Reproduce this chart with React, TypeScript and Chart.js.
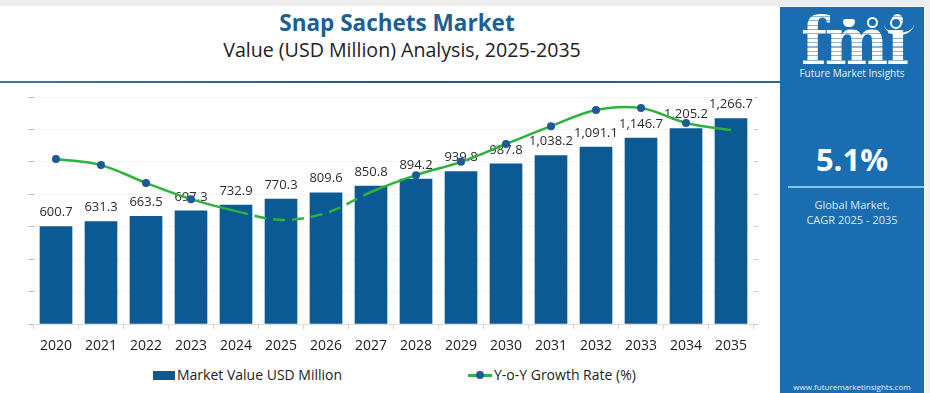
import React, { useEffect, useRef } from "react";
import { Chart, registerables } from "chart.js";

Chart.register(...registerables);

const years = ["2020", "2021", "2022", "2023", "2024", "2025", "2026", "2027", "2028", "2029", "2030", "2031", "2032", "2033", "2034", "2035"];
const marketValues = [600.7, 631.3, 663.5, 697.3, 732.9, 770.3, 809.6, 850.8, 894.2, 939.8, 987.8, 1038.2, 1091.1, 1146.7, 1205.2, 1266.7];
const growthRates = [5.09, 4.9, 4.35, 3.85, 3.48, 3.21, 3.42, 4.07, 4.59, 5.0, 5.55, 6.1, 6.6, 6.66, 6.2, 5.98];
const growthMarkers = [4, 4, 4, 4, 0, 0, 0, 0, 4, 4, 4, 4, 4, 4, 4, 0];
const valueAxisMax = 1400;
const valueAxisStep = 200;
const growthAxisMax = 7;
const growthAxisStep = 1;

const FONT = "'Open Sans', 'Noto Sans', sans-serif";
const BAR_COLOR = "#0c5a93";
const LINE_COLOR = "#2db23b";
const POINT_COLOR = "#1d5a96";
const PANEL_COLOR = "#1a6db1";

const fmt = (v: number) =>
  v.toLocaleString("en-US", { minimumFractionDigits: 1, maximumFractionDigits: 1 });

const barLabels = {
  id: "barLabels",
  afterDatasetDraw(chart: any, args: any) {
    if (args.index !== 0) return;
    const ctx = chart.ctx;
    ctx.save();
    ctx.font = `13px ${FONT}`;
    ctx.fillStyle = "#2b2b2b";
    ctx.textAlign = "center";
    ctx.textBaseline = "middle";
    args.meta.data.forEach((el: any, i: number) => {
      ctx.fillText(fmt(marketValues[i]), el.x, el.y - 14);
    });
    ctx.restore();
  },
};

function ChartCanvas() {
  const ref = useRef<HTMLCanvasElement | null>(null);
  useEffect(() => {
    if (!ref.current) return;
    const chart = new Chart(ref.current, {
      type: "bar",
      data: {
        labels: years,
        datasets: [
          {
            type: "bar",
            label: "Market Value USD Million",
            data: marketValues,
            backgroundColor: BAR_COLOR,
            barThickness: 32,
            yAxisID: "y",
            order: 2,
          },
          {
            type: "line",
            label: "Y-o-Y Growth Rate (%)",
            data: growthRates,
            yAxisID: "y1",
            borderColor: LINE_COLOR,
            borderWidth: 2.5,
            tension: 0.35,
            pointRadius: growthMarkers,
            pointHoverRadius: growthMarkers,
            pointBackgroundColor: POINT_COLOR,
            pointBorderWidth: 0,
            segment: {
              borderDash: (c: any) =>
                c.p0DataIndex >= 4 && c.p0DataIndex <= 6 ? [12, 7] : undefined,
            },
            order: 1,
          } as any,
        ],
      },
      options: {
        animation: false,
        responsive: false,
        layout: { padding: { top: 12, left: 0, right: 0, bottom: 0 } },
        plugins: { legend: { display: false }, tooltip: { enabled: false } },
        scales: {
          x: {
            grid: { offset: true, drawOnChartArea: false, tickLength: 5, color: "#d0d0d0" },
            border: { color: "#dcdcdc" },
            ticks: { font: { family: FONT, size: 14 }, color: "#222", padding: 9 },
            afterFit: (s: any) => {
              s.height = 41;
            },
          },
          y: {
            position: "left",
            min: 0,
            max: valueAxisMax,
            ticks: { display: false, stepSize: valueAxisStep },
            grid: { color: "#f4f4f4", tickLength: 5, tickColor: "#b8b8b8" },
            border: { display: false },
            afterFit: (s: any) => {
              s.width = 33.5;
            },
          },
          y1: {
            position: "right",
            min: 0,
            max: growthAxisMax,
            ticks: { display: false, stepSize: growthAxisStep },
            grid: { drawOnChartArea: false, tickLength: 4, tickColor: "#c8c8c8" },
            border: { display: false },
            afterFit: (s: any) => {
              s.width = 26.5;
            },
          },
        },
      } as any,
      plugins: [barLabels],
    });
    return () => chart.destroy();
  }, []);
  return (
    <canvas
      ref={ref}
      width={780}
      height={280}
      style={{ position: "absolute", left: 0, top: 85, width: 780, height: 280 }}
    />
  );
}

export default function App() {
  const abs = (s: React.CSSProperties): React.CSSProperties => ({ position: "absolute", ...s });
  return (
    <div
      style={{
        position: "fixed",
        left: 0,
        top: 0,
        width: 930,
        height: 393,
        background: "#ffffff",
        overflow: "hidden",
        fontFamily: FONT,
      }}
    >
      <div style={abs({ left: 0, top: 0, width: 930, height: 6, background: "#ededed" })} />
      <div style={abs({ left: 924, top: 0, width: 6, height: 393, background: "#f1f1f1" })} />
      <div
        style={abs({
          left: 0,
          top: 10,
          width: 794,
          textAlign: "center",
          fontSize: 22.5,
          fontWeight: 700,
          color: "#1b5f93",
          lineHeight: "26px",
        })}
      >
        Snap Sachets Market
      </div>
      <div
        style={abs({
          left: 0,
          top: 38,
          width: 804,
          textAlign: "center",
          fontSize: 19.6,
          color: "#222",
          lineHeight: "24px",
        })}
      >
        Value (USD Million) Analysis, 2025-2035
      </div>
      <div
        style={abs({
          left: 0,
          top: 81,
          width: 780,
          height: 2,
          background: "linear-gradient(90deg, #3f78a3 0%, #1d5a8a 50%, #2c6796 100%)",
        })}
      />
      <ChartCanvas />
      {/* legend */}
      <div style={abs({ left: 153, top: 371, width: 22, height: 9, background: BAR_COLOR })} />
      <div style={abs({ left: 177, top: 365, fontSize: 14, lineHeight: "20px", color: "#222" })}>
        Market Value USD Million
      </div>
      <div style={abs({ left: 468, top: 374, width: 24, height: 2.5, background: LINE_COLOR })} />
      <div
        style={abs({ left: 476, top: 371, width: 8, height: 8, borderRadius: 4, background: POINT_COLOR })}
      />
      <div style={abs({ left: 494, top: 365, fontSize: 14, lineHeight: "20px", color: "#222" })}>
        Y-o-Y Growth Rate (%)
      </div>
      {/* right panel */}
      <div style={abs({ left: 780, top: 7, width: 144, height: 386, background: PANEL_COLOR })}>
        <div
          style={abs({
            left: 21,
            top: 1,
            width: 110,
            height: 60,
            fontFamily: "'DejaVu Serif', serif",
            fontWeight: 700,
            fontSize: 60,
            lineHeight: "60px",
            letterSpacing: -2,
            transform: "scaleY(1.1)",
            transformOrigin: "0 0",
            backgroundImage:
              "repeating-linear-gradient(180deg, #ffffff 0px, #ffffff 3px, rgba(255,255,255,0.5) 3px, rgba(255,255,255,0.5) 4px)",
            WebkitBackgroundClip: "text",
            backgroundClip: "text",
            color: "transparent",
          } as any)}
        >
          fmi
        </div>
        <div style={abs({ left: 104, top: 6, width: 144 - 104 - 10, height: 22, borderRadius: "50%", borderBottom: "2px solid #fff", boxSizing: "border-box" })} />
        <div style={abs({ left: 63, top: 12, width: 12, height: 8, borderRadius: "3px 3px 6px 6px", background: "#fff" })} />
        <div style={abs({ left: 87, top: 10, width: 11, height: 11, borderRadius: 6, border: "2px solid #fff", background: PANEL_COLOR, boxSizing: "border-box" })} />
        <div style={abs({ left: 110, top: 10, width: 12, height: 12, borderRadius: 6, border: "2px solid #fff", background: PANEL_COLOR, boxSizing: "border-box" })} />
        <div
          style={abs({
            left: 0,
            top: 59,
            width: 144,
            textAlign: "center",
            fontSize: 10,
            color: "#e8f1fa",
            lineHeight: "14px",
          })}
        >
          Future Market Insights
        </div>
        <div
          style={abs({
            left: 0,
            top: 132,
            width: 144,
            textAlign: "center",
            fontSize: 31,
            fontWeight: 700,
            color: "#fff",
            lineHeight: "40px",
          })}
        >
          5.1%
        </div>
        <div style={abs({ left: 8, top: 179, width: 136, height: 2, background: "#86c3ec" })} />
        <div
          style={abs({
            left: 0,
            top: 190,
            width: 144,
            textAlign: "center",
            fontSize: 11,
            color: "#dbe9f6",
            lineHeight: "15px",
          })}
        >
          Global Market,
          <br />
          CAGR 2025 - 2035
        </div>
        <div
          style={abs({
            left: 0,
            top: 374,
            width: 144,
            textAlign: "center",
            fontSize: 8,
            color: "#e4eef8",
            lineHeight: "12px",
          })}
        >
          www.futuremarketinsights.com
        </div>
      </div>
    </div>
  );
}
